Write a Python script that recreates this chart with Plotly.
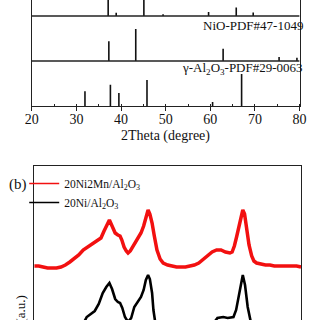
import plotly.graph_objects as go

# ---------------- data ----------------
# reference cards (2theta, relative height in % of panel)
top_pos = [37.1, 38.9, 45.1, 49.4, 59.6, 65.8, 69.6]
top_int = [80, 7, 65, 4, 9, 19, 8]
nio_pos = [37.25, 43.28, 62.86, 75.4, 79.4]
nio_int = [44, 71, 27, 9, 7]
al_pos = [31.9, 37.6, 39.5, 45.8, 60.5, 67.0]
al_int = [33, 47, 29, 58, 9, 71]
nio_label = "NiO-PDF#47-1049"
al_label = "γ-Al<sub>2</sub>O<sub>3</sub>-PDF#29-0063"

# panel (b) patterns
red_name = "20Ni2Mn/Al<sub>2</sub>O<sub>3</sub>"
red_x = [20, 21, 22, 23, 24, 25, 26, 27, 28, 29, 30, 31, 32, 33, 34, 35, 35.7, 36.3, 36.9,
         37.5, 38.2, 38.8, 39.3, 39.7, 40.2, 40.7, 41.1, 41.6, 42.5, 43.3, 44.0, 44.6, 45.1,
         45.6, 46.0, 46.5, 47.0, 47.6, 48.3, 49.0, 50, 51, 52, 53, 54, 55, 56, 57, 58, 59, 60,
         61, 62, 63, 64, 64.5, 65, 65.5, 66, 66.5, 66.9, 67.3, 67.7, 68.3, 68.9, 69.4, 70, 71,
         72, 73, 74, 75, 76, 77, 78, 79, 80]
red_y = [74, 74, 73, 72, 72, 72, 73, 75, 78, 81, 85, 90, 93, 96, 98, 102, 109, 115, 120,
         114, 107, 105, 104, 100, 93, 89, 87, 89, 96, 102, 107, 114, 123,
         130, 126, 117, 104, 90, 81, 77, 75, 74, 73, 73, 73, 74, 75, 77, 81, 85, 88,
         90, 90, 88, 87, 88, 94, 103, 114, 125, 130, 126, 115, 95, 84, 79, 77, 76,
         75, 75, 74, 74, 74, 74, 74, 74, 73]
black_name = "20Ni/Al<sub>2</sub>O<sub>3</sub>"
black_x = [20, 24, 28, 30, 31, 31.8, 32.5, 33.6, 34.5, 35.4, 36.2, 36.9, 37.5, 38.2, 38.8,
           39.3, 39.8, 40.4, 41.1, 41.8, 42.5, 43.3, 44.0, 44.6, 45.1, 45.6, 46.0, 46.5, 46.8,
           47.3, 48, 50, 55, 58, 60, 61.2, 62.5, 63.5, 64.8, 65.4, 65.8, 66.4, 66.9, 67.4,
           68.0, 68.7, 69.5, 71, 75, 80]
black_y = [2, 3, 5, 10, 16, 23, 25, 29, 36, 47, 53, 57, 51, 41, 38,
           37, 32, 23, 18, 22, 33, 39, 43, 50, 60, 65, 61, 47, 30,
           15, 7, 3, 2, 7, 15, 22, 23, 22, 23, 30, 40, 55, 65, 55,
           33, 18, 8, 4, 2, 2]

x_ticks = [20, 30, 40, 50, 60, 70, 80]
x_title = "2Theta (degree)"
y_title = "Intensity (a.u.)"
panel_tag = "(b)"

# ---------------- build ----------------
FONT = "Liberation Serif, Times New Roman, serif"
W = H = 320
RED = "#f21010"
fig = go.Figure()

def stems(pos, hts, base):
    xs, ys = [], []
    for p, h in zip(pos, hts):
        xs += [p, p, None]
        ys += [base, base + h, None]
    return xs, ys

for pos, hts, base in [(al_pos, al_int, 0), (nio_pos, nio_int, 100), (top_pos, top_int, 200)]:
    xs, ys = stems(pos, hts, base)
    fig.add_trace(go.Scatter(x=xs, y=ys, mode="lines", line=dict(color="#111", width=1.6),
                             showlegend=False, hoverinfo="skip", xaxis="x", yaxis="y"))
for base in [100, 200]:
    fig.add_trace(go.Scatter(x=[20, 80], y=[base, base], mode="lines",
                             line=dict(color="#222", width=1.4), showlegend=False,
                             hoverinfo="skip", xaxis="x", yaxis="y"))

fig.add_trace(go.Scatter(x=red_x, y=red_y, mode="lines", name=red_name, showlegend=False,
                         line=dict(color=RED, width=3.5), xaxis="x2", yaxis="y2"))
fig.add_trace(go.Scatter(x=black_x, y=black_y, mode="lines", name=black_name, showlegend=False,
                         line=dict(color="#000", width=2.6), xaxis="x2", yaxis="y2"))
# legend entries drawn with thin sample lines
fig.add_trace(go.Scatter(x=[20], y=[-100], mode="lines", name=red_name,
                         line=dict(color=RED, width=1.6), xaxis="x2", yaxis="y2"))
fig.add_trace(go.Scatter(x=[20], y=[-100], mode="lines", name=black_name,
                         line=dict(color="#000", width=1.6), xaxis="x2", yaxis="y2"))

top_px = 106
fig.update_layout(
    width=W, height=H, margin=dict(l=0, r=0, t=0, b=0),
    paper_bgcolor="white", plot_bgcolor="white",
    font=dict(family=FONT, color="#111", size=13),
    xaxis=dict(domain=[26 / W, 306 / W], range=[20, 80], tickvals=x_ticks,
               ticks="outside", ticklen=4, tickwidth=1.3, tickcolor="#222",
               ticklabelstandoff=-4,
               minor=dict(dtick=5, ticks="inside", ticklen=2, tickcolor="#222"),
               showline=True, linecolor="#222", linewidth=1.4, mirror=False,
               showgrid=False, zeroline=False, tickfont=dict(size=14, family=FONT), anchor="y"),
    yaxis=dict(domain=[1 - top_px / H, 1], range=[0, top_px / 45 * 100],
               showline=True, linecolor="#222", linewidth=1.4, mirror=True,
               showticklabels=False, ticks="", showgrid=False, zeroline=False, anchor="x"),
    xaxis2=dict(domain=[28.5 / W, 307.5 / W], range=[20, 80], side="top",
                showline=True, linecolor="#222", linewidth=1.4, ticks="",
                showticklabels=False, showgrid=False, zeroline=False, anchor="y2"),
    yaxis2=dict(domain=[0, 1 - 166 / H], range=[20, 174],
                showline=True, linecolor="#222", linewidth=1.4, mirror=True,
                showticklabels=False, ticks="", showgrid=False, zeroline=False, anchor="x2"),
    legend=dict(x=18 / W, y=1 - 169 / H, xanchor="left", yanchor="top",
                bgcolor="rgba(0,0,0,0)", font=dict(size=11.5, family=FONT),
                tracegroupgap=0, itemwidth=30),
    showlegend=True,
)

ann = [
    dict(text=nio_label, x=80, y=(top_px - 25) / 45 * 100, xref="x", yref="y", xshift=5,
         xanchor="right", yanchor="middle", showarrow=False, font=dict(size=13, family=FONT)),
    dict(text=al_label, x=80, y=(top_px - 68.5) / 45 * 100, xref="x", yref="y", xshift=5,
         xanchor="right", yanchor="middle", showarrow=False, font=dict(size=13, family=FONT)),
    dict(text=x_title, x=166 / W, y=1 - 136 / H, xref="paper", yref="paper",
         xanchor="center", yanchor="middle", showarrow=False, font=dict(size=14, family=FONT)),
    dict(text=panel_tag, x=12 / W, y=1 - 184 / H, xref="paper", yref="paper",
         xanchor="center", yanchor="middle", showarrow=False, font=dict(size=15, family=FONT)),
    dict(text=y_title, x=14 / W, y=1 - 333 / H, xref="paper", yref="paper",
         xanchor="center", yanchor="middle", textangle=-90, showarrow=False,
         font=dict(size=13, family=FONT)),
]
fig.update_layout(annotations=ann)

fig.write_html("out.html")
